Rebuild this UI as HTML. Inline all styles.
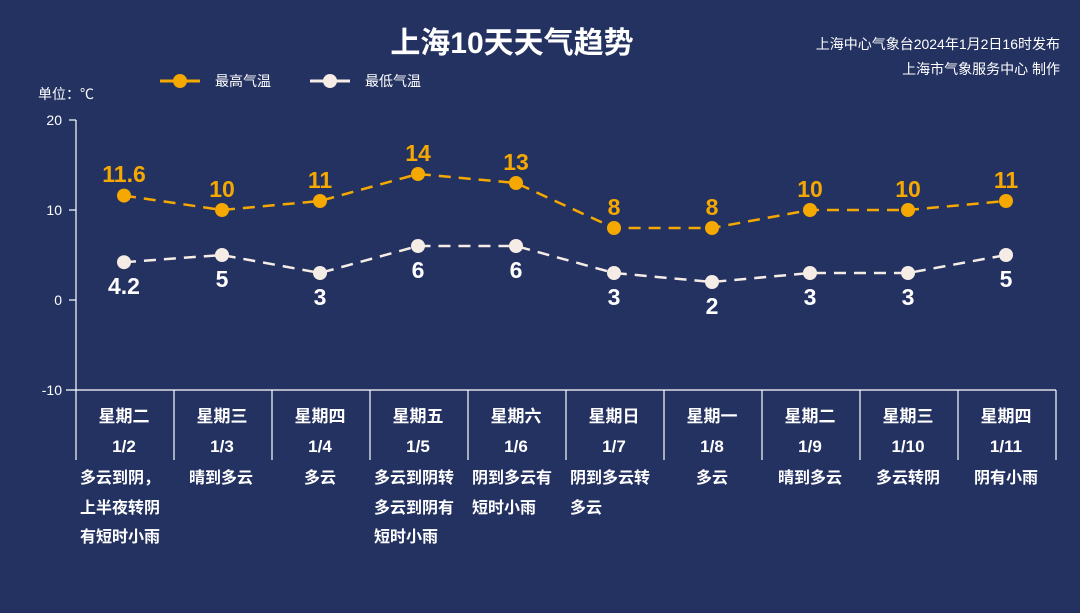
<!DOCTYPE html>
<html><head><meta charset="utf-8"><style>
body{margin:0;background:#243261;}
svg{display:block;font-family:"Liberation Sans","Noto Sans CJK SC",sans-serif;}
</style></head><body>
<svg width="1080" height="613" viewBox="0 0 1080 613">
<rect width="1080" height="613" fill="#243261"/>
<text x="512" y="53" fill="#fff" font-size="30" font-weight="bold" text-anchor="middle">上海10天天气趋势</text>
<text x="1060" y="49" fill="#fff" font-size="14" text-anchor="end">上海中心气象台2024年1月2日16时发布</text>
<text x="1060" y="74" fill="#fff" font-size="14" text-anchor="end">上海市气象服务中心 制作</text>
<line x1="160" y1="81" x2="200" y2="81" stroke="#f5a800" stroke-width="3"/><circle cx="180" cy="81" r="7" fill="#f5a800"/>
<text x="215" y="86" fill="#fff" font-size="14">最高气温</text>
<line x1="310" y1="81" x2="350" y2="81" stroke="#f5ece6" stroke-width="3"/><circle cx="330" cy="81" r="7" fill="#f5ece6"/>
<text x="365" y="86" fill="#fff" font-size="14">最低气温</text>
<text x="38" y="99" fill="#fff" font-size="14">单位：℃</text>
<g stroke="#fff" stroke-width="1.2">
<line x1="76" y1="120" x2="76" y2="390"/>
<line x1="69" y1="120" x2="76" y2="120"/><line x1="69" y1="210" x2="76" y2="210"/><line x1="69" y1="300" x2="76" y2="300"/>
<line x1="66" y1="390" x2="1056" y2="390"/>
<line x1="76" y1="390" x2="76" y2="460"/><line x1="174" y1="390" x2="174" y2="460"/><line x1="272" y1="390" x2="272" y2="460"/><line x1="370" y1="390" x2="370" y2="460"/><line x1="468" y1="390" x2="468" y2="460"/><line x1="566" y1="390" x2="566" y2="460"/><line x1="664" y1="390" x2="664" y2="460"/><line x1="762" y1="390" x2="762" y2="460"/><line x1="860" y1="390" x2="860" y2="460"/><line x1="958" y1="390" x2="958" y2="460"/><line x1="1056" y1="390" x2="1056" y2="460"/>
</g>
<g fill="#fff" font-size="14" text-anchor="end">
<text x="62" y="125">20</text><text x="62" y="215">10</text><text x="62" y="305">0</text><text x="62" y="395">-10</text>
</g>
<polyline points="124,195.6 222,210 320,201 418,174 516,183 614,228 712,228 810,210 908,210 1006,201" fill="none" stroke="#f5a800" stroke-width="2.5" stroke-dasharray="12,8"/>
<polyline points="124,262.2 222,255 320,273 418,246 516,246 614,273 712,282 810,273 908,273 1006,255" fill="none" stroke="#f5ece6" stroke-width="2.5" stroke-dasharray="12,8"/>
<g fill="#f5a800">
<circle cx="124" cy="195.6" r="7"/><circle cx="222" cy="210" r="7"/><circle cx="320" cy="201" r="7"/><circle cx="418" cy="174" r="7"/><circle cx="516" cy="183" r="7"/><circle cx="614" cy="228" r="7"/><circle cx="712" cy="228" r="7"/><circle cx="810" cy="210" r="7"/><circle cx="908" cy="210" r="7"/><circle cx="1006" cy="201" r="7"/>
</g>
<g fill="#f5ece6">
<circle cx="124" cy="262.2" r="7"/><circle cx="222" cy="255" r="7"/><circle cx="320" cy="273" r="7"/><circle cx="418" cy="246" r="7"/><circle cx="516" cy="246" r="7"/><circle cx="614" cy="273" r="7"/><circle cx="712" cy="282" r="7"/><circle cx="810" cy="273" r="7"/><circle cx="908" cy="273" r="7"/><circle cx="1006" cy="255" r="7"/>
</g>
<g fill="#f5a800" font-size="23" font-weight="bold" text-anchor="middle">
<text x="124" y="182">11.6</text><text x="222" y="197">10</text><text x="320" y="188">11</text><text x="418" y="161">14</text><text x="516" y="170">13</text><text x="614" y="215">8</text><text x="712" y="215">8</text><text x="810" y="197">10</text><text x="908" y="197">10</text><text x="1006" y="188">11</text>
</g>
<g fill="#fff" font-size="23" font-weight="bold" text-anchor="middle">
<text x="124" y="294">4.2</text><text x="222" y="287">5</text><text x="320" y="305">3</text><text x="418" y="278">6</text><text x="516" y="278">6</text><text x="614" y="305">3</text><text x="712" y="314">2</text><text x="810" y="305">3</text><text x="908" y="305">3</text><text x="1006" y="287">5</text>
</g>
<g fill="#fff" font-size="17" font-weight="bold" text-anchor="middle">
<text x="124" y="422">星期二</text><text x="222" y="422">星期三</text><text x="320" y="422">星期四</text><text x="418" y="422">星期五</text><text x="516" y="422">星期六</text><text x="614" y="422">星期日</text><text x="712" y="422">星期一</text><text x="810" y="422">星期二</text><text x="908" y="422">星期三</text><text x="1006" y="422">星期四</text>
<text x="124" y="452">1/2</text><text x="222" y="452">1/3</text><text x="320" y="452">1/4</text><text x="418" y="452">1/5</text><text x="516" y="452">1/6</text><text x="614" y="452">1/7</text><text x="712" y="452">1/8</text><text x="810" y="452">1/9</text><text x="908" y="452">1/10</text><text x="1006" y="452">1/11</text>
</g>
<g fill="#fff" font-size="16" font-weight="bold">
<text x="80" y="483">多云到阴，</text><text x="80" y="513">上半夜转阴</text><text x="80" y="542">有短时小雨</text>
<text x="189" y="483">晴到多云</text>
<text x="304" y="483">多云</text>
<text x="374" y="483">多云到阴转</text><text x="374" y="513">多云到阴有</text><text x="374" y="542">短时小雨</text>
<text x="472" y="483">阴到多云有</text><text x="472" y="513">短时小雨</text>
<text x="570" y="483">阴到多云转</text><text x="570" y="513">多云</text>
<text x="696" y="483">多云</text>
<text x="778" y="483">晴到多云</text>
<text x="876" y="483">多云转阴</text>
<text x="974" y="483">阴有小雨</text>
</g>
</svg>
</body></html>
